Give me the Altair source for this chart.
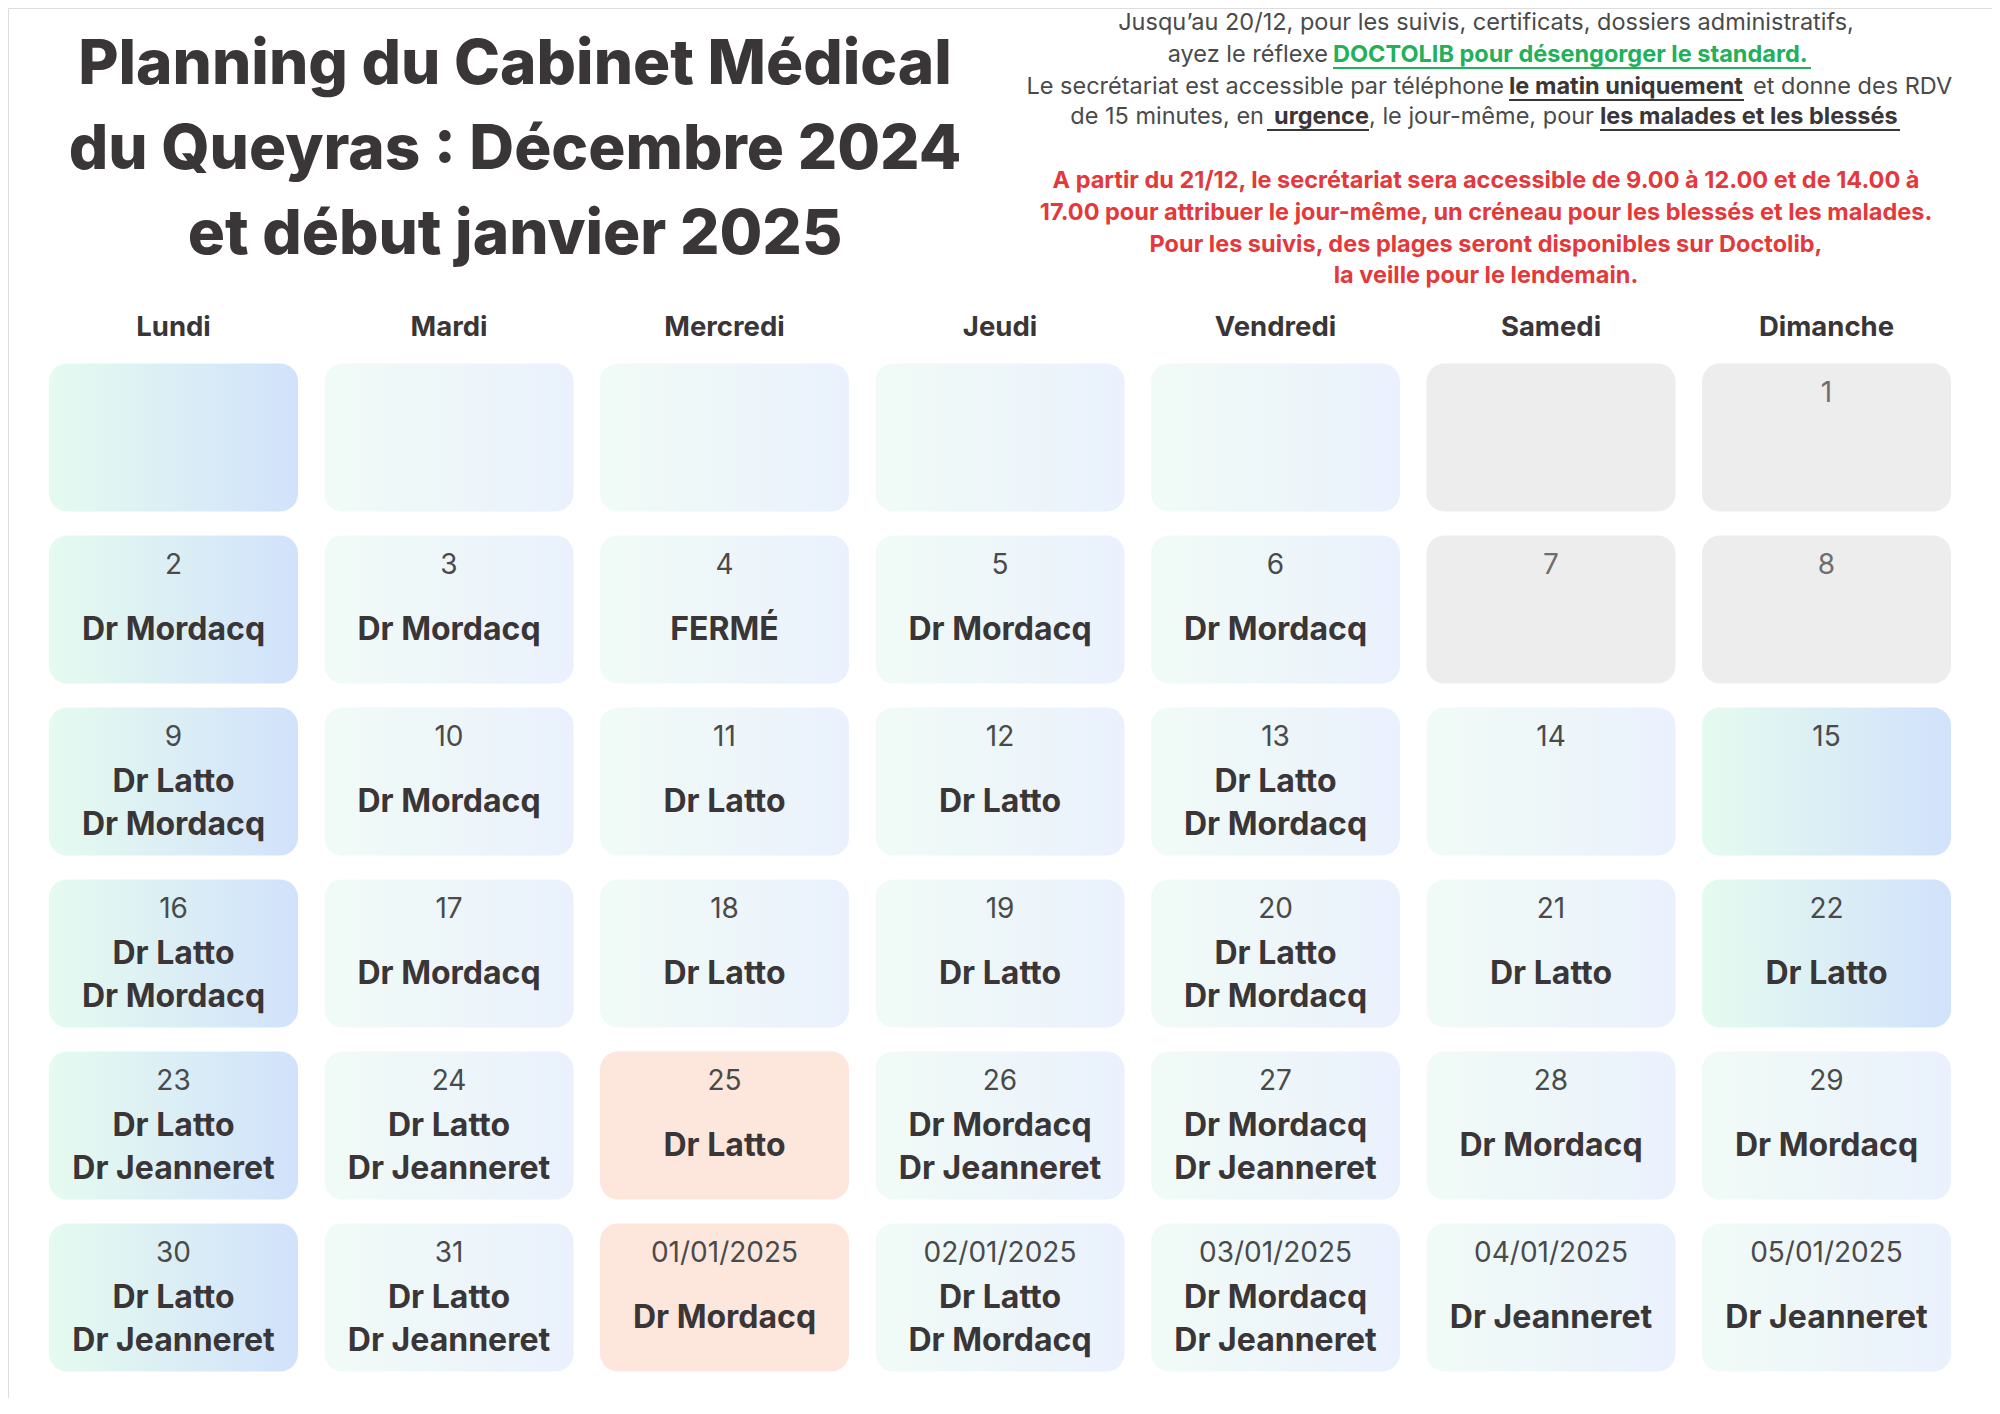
import altair as alt
import pandas as pd

# ---------------- data ----------------
jours = ["Lundi", "Mardi", "Mercredi", "Jeudi", "Vendredi", "Samedi", "Dimanche"]

dates = [
    ["", "", "", "", "", "", "1"],
    ["2", "3", "4", "5", "6", "7", "8"],
    ["9", "10", "11", "12", "13", "14", "15"],
    ["16", "17", "18", "19", "20", "21", "22"],
    ["23", "24", "25", "26", "27", "28", "29"],
    ["30", "31", "01/01/2025", "02/01/2025", "03/01/2025", "04/01/2025", "05/01/2025"],
]

medecins = [
    ["", "", "", "", "", "", ""],
    ["Dr Mordacq", "Dr Mordacq", "FERMÉ", "Dr Mordacq", "Dr Mordacq", "", ""],
    ["Dr Latto\nDr Mordacq", "Dr Mordacq", "Dr Latto", "Dr Latto", "Dr Latto\nDr Mordacq", "", ""],
    ["Dr Latto\nDr Mordacq", "Dr Mordacq", "Dr Latto", "Dr Latto", "Dr Latto\nDr Mordacq", "Dr Latto", "Dr Latto"],
    ["Dr Latto\nDr Jeanneret", "Dr Latto\nDr Jeanneret", "Dr Latto", "Dr Mordacq\nDr Jeanneret",
     "Dr Mordacq\nDr Jeanneret", "Dr Mordacq", "Dr Mordacq"],
    ["Dr Latto\nDr Jeanneret", "Dr Latto\nDr Jeanneret", "Dr Mordacq", "Dr Latto\nDr Mordacq",
     "Dr Mordacq\nDr Jeanneret", "Dr Jeanneret", "Dr Jeanneret"],
]

types = [
    ["fort", "pale", "pale", "pale", "pale", "gris", "gris"],
    ["fort", "pale", "pale", "pale", "pale", "gris", "gris"],
    ["fort", "pale", "pale", "pale", "pale", "pale", "fort"],
    ["fort", "pale", "pale", "pale", "pale", "pale", "fort"],
    ["fort", "pale", "ferie", "pale", "pale", "pale", "pale"],
    ["fort", "pale", "ferie", "pale", "pale", "pale", "pale"],
]

titre = "Planning du Cabinet Médical\ndu Queyras : Décembre 2024\net début janvier 2025"

info_l1 = "Jusqu’au 20/12, pour les suivis, certificats, dossiers administratifs,"
info_l2a = "ayez le réflexe"
info_l2b = "DOCTOLIB pour désengorger le standard."
info_l3a = "Le secrétariat est accessible par téléphone"
info_l3b = "le matin uniquement"
info_l3c = "et donne des RDV"
info_l4a = "de 15 minutes, en"
info_l4b = "urgence"
info_l4c = ", le jour-même, pour"
info_l4d = "les malades et les blessés"
rouge_lignes = [
    "A partir du 21/12, le secrétariat sera accessible de 9.00 à 12.00 et de 14.00 à",
    "17.00 pour  attribuer le jour-même, un créneau pour les blessés et les malades.",
    "Pour les suivis, des plages seront disponibles sur Doctolib,",
    "la veille pour le lendemain.",
]

rows = []
for s, (drow, mrow, trow) in enumerate(zip(dates, medecins, types)):
    for j, jour in enumerate(jours):
        rows.append({"jour": jour, "semaine": s, "date": drow[j],
                     "medecin": mrow[j], "type": trow[j]})
df = pd.DataFrame(rows)

# ---------------- style ----------------
FONT = "Inter"
INK = "#3a3536"
GRAY_TXT = "#4a4a4a"
RED = "#e5383b"
GREEN = "#22b05a"
INFO_SIZE = 23.5

def grad(c0, c1):
    return {"gradient": "linear", "x1": 0, "y1": 0, "x2": 1, "y2": 0,
            "stops": [{"offset": 0, "color": c0}, {"offset": 1, "color": c1}]}

fills = {
    "fort": grad("#e5fbef", "#d1e2fb"),
    "pale": grad("#f1fbf6", "#eaf1fd"),
    "gris": "#ededed",
    "ferie": "#fde6dc",
}

xs = alt.Scale(domain=jours, range=[27.75, 1956.25], paddingInner=0.096, paddingOuter=0.048)
ys = alt.Scale(domain=list(range(6)), range=[343.5, 1375.5], paddingInner=0.14, paddingOuter=0.07)
X = alt.X("jour:N", scale=xs, axis=None, sort=jours)
Y = alt.Y("semaine:O", scale=ys, axis=None)

base = alt.Chart(df).transform_calculate(
    deux="indexof(datum.medecin, '\\n') >= 0"
)

layers = []
for t, f in fills.items():
    layers.append(
        base.transform_filter(alt.datum.type == t)
        .mark_rect(fill=f, cornerRadius=18)
        .encode(x=X, y=Y)
    )

layers.append(
    base.mark_text(font=FONT, fontSize=28, dy=-44, baseline="middle")
    .encode(x=X, y=Y, text="date:N",
            color=alt.condition(alt.datum.type == "gris", alt.value("#6e6e6e"), alt.value(GRAY_TXT)))
)
# single-line doctor labels
layers.append(
    base.transform_filter("!datum.deux")
    .mark_text(font=FONT, fontSize=32, fontWeight="bold", dy=20, baseline="middle", color=INK)
    .encode(x=X, y=Y, text="medecin:N")
)
# two-line doctor labels
layers.append(
    base.transform_filter("datum.deux")
    .mark_text(font=FONT, fontSize=32, fontWeight="bold", dy=0, baseline="middle",
               lineBreak="\n", lineHeight=43, color=INK)
    .encode(x=X, y=Y, text="medecin:N")
)

hdr = pd.DataFrame({"jour": jours})
layers.append(
    alt.Chart(hdr).mark_text(font=FONT, fontSize=27.5, fontWeight="bold", color=INK, baseline="middle")
    .encode(x=X, y=alt.value(320), text="jour:N")
)

def seg(txt, x, y, align="left", weight="normal", color=GRAY_TXT, size=INFO_SIZE):
    return (alt.Chart(pd.DataFrame({"t": [txt]}))
            .mark_text(font=FONT, fontSize=size, fontWeight=weight, color=color,
                       align=align, baseline="middle")
            .encode(x=alt.value(x), y=alt.value(y), text="t:N"))

def underline(x1, x2, y, color):
    return (alt.Chart(pd.DataFrame({"u": [0]}))
            .mark_rule(color=color, strokeWidth=1.8)
            .encode(x=alt.value(x1), x2=alt.value(x2), y=alt.value(y)))

layers.append(
    alt.Chart(pd.DataFrame({"t": [titre]}))
    .mark_text(font=FONT, fontSize=62, fontWeight=800, color=INK, align="center",
               baseline="middle", lineBreak="\n", lineHeight=85)
    .encode(x=alt.value(507), y=alt.value(57), text="t:N")
)

cx = 1478
layers += [
    seg(info_l1, cx, 15, align="center"),
    seg(info_l2a, 1320, 47, align="right"),
    seg(info_l2b, 1325, 47, weight="bold", color=GREEN),
    underline(1325, 1803, 60, GREEN),
    seg(info_l3a, 1496, 79, align="right"),
    seg(info_l3b, 1501, 79, weight="bold", color=INK),
    underline(1501, 1736, 92, INK),
    seg(info_l3c, 1745, 79),
    seg(info_l4a, 1256, 109, align="right"),
    seg(info_l4b, 1266, 109, weight="bold", color=INK),
    underline(1259, 1361, 122, INK),
    seg(info_l4c, 1361, 109),
    seg(info_l4d, 1592, 109, weight="bold", color=INK),
    underline(1592, 1892, 122, INK),
]
for ln, yy in zip(rouge_lignes, [173, 205, 237, 267.5]):
    layers.append(seg(ln, cx, yy, align="center", weight="bold", color=RED))

chart = (
    alt.layer(*layers)
    .properties(width=1984, height=1390, padding=0,
                autosize=alt.AutoSizeParams(type="fit", contains="padding"))
    .configure_view(stroke="transparent", strokeWidth=0)
    .configure(background="white")
)

chart.save("out.html", embed_options={"renderer": "svg", "actions": False})
